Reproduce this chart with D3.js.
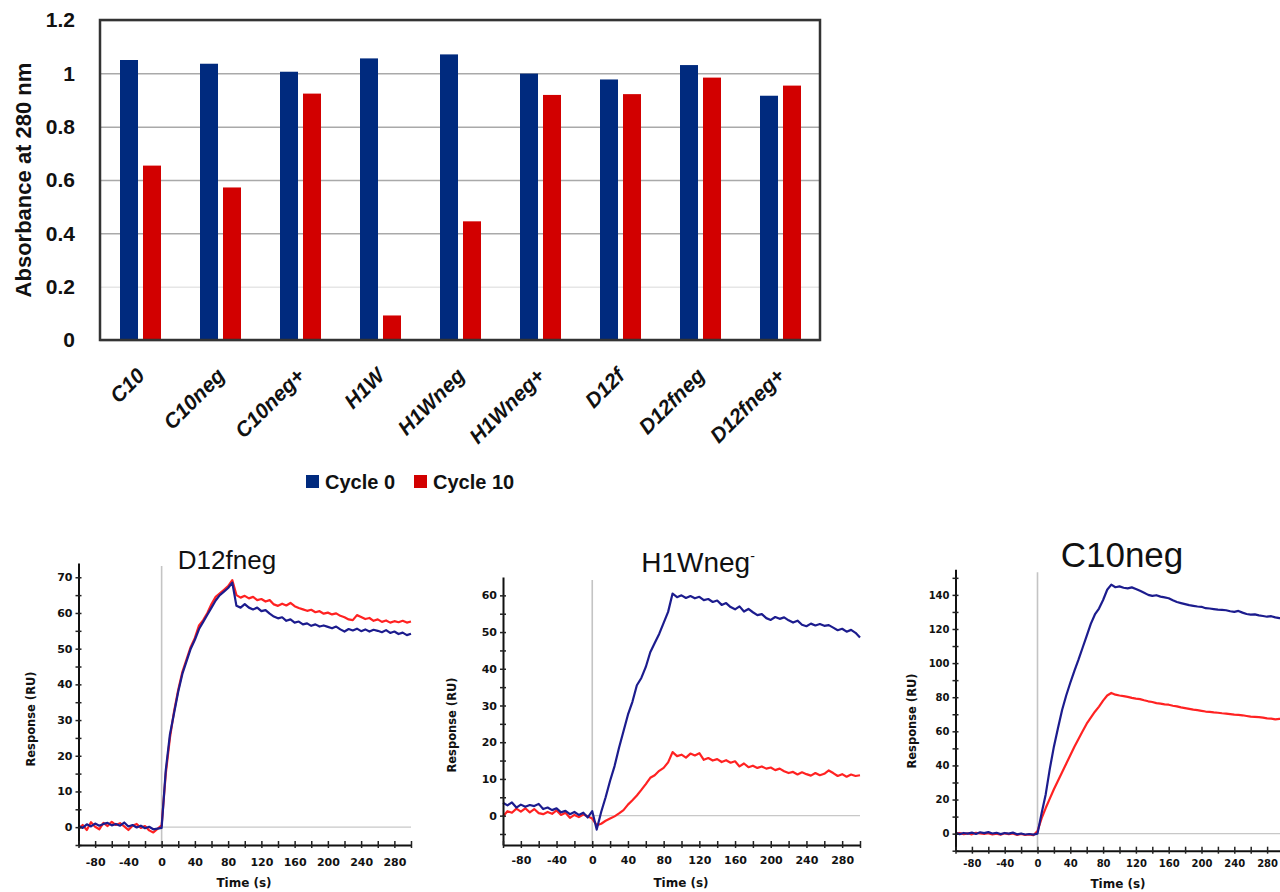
<!DOCTYPE html>
<html>
<head>
<meta charset="utf-8">
<script src="https://cdn.jsdelivr.net/npm/d3@7"></script>
<style>
  body { margin: 0; background: #fff; }
  svg { display: block; }
</style>
</head>
<body>
<svg id="chart" width="1280" height="892"></svg>
<script>
// absorbance bar chart
const categories = ["C10", "C10neg", "C10neg+", "H1W", "H1Wneg", "H1Wneg+", "D12f", "D12fneg", "D12fneg+"];
const seriesNames = ["Cycle 0", "Cycle 10"];
const cycle0 = [1.05, 1.036, 1.006, 1.056, 1.071, 0.999, 0.977, 1.031, 0.916];
const cycle10 = [0.654, 0.572, 0.924, 0.092, 0.445, 0.919, 0.922, 0.984, 0.954];
const absTicks = [0, 0.2, 0.4, 0.6, 0.8, 1, 1.2];

// sensorgrams (Response in RU vs time in s)
const times = [-100, -95, -90, -85, -80, -75, -70, -65, -60, -55, -50, -45, -40, -35, -30, -25, -20, -15, -10, -5, 0,
  5, 10, 15, 20, 25, 30, 35, 40, 45, 50, 55, 60, 65, 70, 75, 80, 85,
  90, 95, 100, 105, 110, 115, 120, 125, 130, 135, 140, 145, 150, 155, 160, 165, 170, 175, 180, 185, 190, 195,
  200, 205, 210, 215, 220, 225, 230, 235, 240, 245, 250, 255, 260, 265, 270, 275, 280, 285, 290, 295, 300];
const timeTicks = [-80, -40, 0, 40, 80, 120, 160, 200, 240, 280];

const d12Cycle0 = [0.3, -0.2, 0.8, 0.2, 1.0, 0.4, 0.9, 1.2, 0.5, 0.9, 0.4, 1.3, 0.2, 0.6, -0.1, 0.4, -0.3, 0.1, -0.6, -0.4, -0.2,
  16, 26, 32, 38, 43, 46.5, 50, 52.5, 55.5, 57.5, 59.5, 61.5, 63.5, 65, 66, 67, 68.5,
  62, 61.5, 62.5, 61.5, 61, 61.5, 60.5, 60.8, 59.8, 59, 58.5, 58.8, 57.8, 58.2, 57.3, 57.6, 56.8, 57.1, 56.4, 56.8, 56.2, 56.5,
  56.1, 55.7, 56.2, 55.4, 54.8, 55.5, 55.1, 55.6, 54.9, 55.4, 54.8, 55.3, 55.0, 54.6, 55.2, 54.4, 54.8, 54.1, 54.5, 53.8, 54.2];
const d12Cycle10 = [-0.5, 0.6, -0.8, 1.4, 0.1, -0.6, 1.2, 0.3, 1.5, 0.6, 1.1, 0.2, -0.8, 0.4, 0.9, -0.2, 0.3, -0.9, -1.5, -0.5, 0.5,
  15, 25, 32.5, 38.5, 43.5, 47, 50.5, 53, 56.5, 58, 60, 62.5, 64.5, 65.5, 66.5, 67.5, 69.2,
  65, 64.3, 64.8, 64.1, 64.5, 63.6, 63.9, 63.2, 63.6, 62.4, 62.0, 62.6, 62.1, 62.8, 61.9, 61.4, 61.0, 60.6, 60.9, 60.2, 60.5, 59.8,
  60.1, 59.6, 59.9, 59.2, 58.8, 58.2, 58.0, 59.4, 58.9, 58.3, 58.6, 57.8, 58.2, 57.5, 57.9, 57.3, 57.7, 57.4, 57.8, 57.3, 57.6];
const d12Ticks = [0, 10, 20, 30, 40, 50, 60, 70];

const h1wCycle0 = [3.5, 2.8, 3.6, 2.2, 3.0, 2.4, 2.9, 2.6, 3.2, 1.8, 2.2, 1.5, 2.0, 0.9, 1.3, 0.4, 1.0, 0.2, 0.8, -0.5, 1.2,
  -3.8, 1.0, 5.0, 9.5, 13.5, 18.5, 23, 27.5, 31, 35.5, 37.5, 40.5, 44.5, 47, 49.5, 52.5, 55.5,
  60.5, 59.5, 60.0, 59.3, 59.8, 59.2, 59.6, 58.7, 59.0, 58.2, 58.6, 57.4, 57.9, 56.8, 56.2, 57.0, 55.6, 56.3, 55.4, 54.6, 54.9, 53.8,
  53.3, 54.1, 53.6, 54.0, 53.2, 52.6, 53.1, 52.0, 51.6, 52.3, 51.8, 52.2, 51.7, 51.9, 51.2, 50.5, 50.9, 50.1, 50.6, 49.8, 48.5];
const h1wCycle10 = [-0.2, 1.2, 0.8, 1.9, 1.1, 2.0, 0.9, 1.8, 0.7, 0.4, 1.0, 0.5, 1.4, 0.2, 0.8, -0.6, 0.2, -0.4, 0.3, -0.2, -0.8,
  -2.6, -2.2, -1.4, -0.8, -0.2, 0.6, 1.5, 3.0, 4.2, 5.5, 7.0, 8.6, 10.3, 11.0, 12.2, 13.0, 14.5,
  17.3, 16.2, 16.6, 15.8, 16.9, 16.4, 17.0, 15.2, 15.7, 15.0, 15.4, 14.6, 15.1, 14.4, 14.8, 13.4, 14.2, 13.2, 13.6, 13.0, 13.4, 12.8,
  13.1, 12.4, 12.8, 12.1, 11.6, 11.9, 11.2, 11.8, 11.3, 10.9, 11.6, 11.0, 11.4, 12.3, 11.6, 10.8, 11.3, 10.6, 11.2, 10.8, 11.0];
const h1wTicks = [0, 10, 20, 30, 40, 50, 60];

const c10Cycle0 = [0.5, -0.3, 0.4, 0.0, 0.6, -0.2, 0.8, 0.3, 0.9, 0.1, 0.5, -0.3, 0.4, 0.0, 0.6, -0.4, 0.1, -0.5, -0.2, -0.6, 0.0,
  12, 23, 38, 51, 62, 72.5, 81, 88.5, 95.5, 102, 109, 116, 123, 128.5, 132, 137, 143,
  146, 144.5, 145, 144.2, 143.8, 144.4, 143.5, 142.4, 141.2, 140.0, 139.4, 139.8, 139.0, 138.5, 138.0, 136.8, 135.8, 135.2, 134.6, 134.0, 133.6, 133.2,
  133.0, 132.2, 132.0, 131.7, 131.4, 131.2, 131.0, 130.4, 130.0, 130.6, 129.6, 128.8, 128.4, 128.6, 128.0, 127.6, 127.2, 127.5, 126.8, 126.4, 126.6];
const c10Cycle10 = [0.0, 0.4, -0.3, 0.2, -0.4, 0.5, 0.1, -0.2, 0.3, -0.5, 0.0, -0.6, 0.2, -0.3, 0.1, -0.7, -0.2, -0.8, -0.4, -0.9, 1.5,
  9, 15, 20.5, 26, 31, 36, 41, 46, 51, 55.5, 60, 64.5, 68, 71.5, 74.5, 78, 81,
  82.5, 81.5, 81.0, 80.6, 80.2, 79.6, 79.2, 78.9, 78.2, 77.6, 77.2, 76.5, 76.2, 75.8, 75.6, 75.0, 74.6, 74.0, 73.6, 73.2, 72.7, 72.4,
  72.0, 71.6, 71.4, 71.1, 70.9, 70.6, 70.4, 70.1, 69.8, 69.6, 69.4, 69.0, 68.6, 68.5, 68.3, 68.0, 67.6, 67.4, 67.0, 67.3, 67.1];
const c10Ticks = [0, 20, 40, 60, 80, 100, 120, 140];

const barColors = ["#002a7e", "#d20000"];
const lineColors = ["#1c1c8e", "#ff2222"];
const fontSans = "'Liberation Sans', Arial, sans-serif";
const fontTicks = "'DejaVu Sans', Verdana, sans-serif";

const svg = d3.select("#chart");

// ---------- bar chart ----------
const box = { left: 100, right: 820, top: 20, bottom: 340 };
const x0 = d3.scaleBand().domain(categories).range([box.left, box.right]);
const x1 = d3.scaleBand().domain(seriesNames).range([20, 61]).paddingInner(0.217);
const yAbs = d3.scaleLinear().domain([0, 1.2]).range([box.bottom, box.top]);

const grid = svg.append("g")
  .attr("transform", "translate(" + box.left + ",0)")
  .call(d3.axisLeft(yAbs).tickValues(absTicks).tickSize(-(box.right - box.left)).tickPadding(25).tickFormat(d => String(d)));
grid.select(".domain").remove();
grid.selectAll(".tick line")
  .attr("stroke", d => d === 0.2 ? "#e6e6e6" : "#a9a9a9")
  .attr("stroke-width", 1.5);
grid.selectAll(".tick text")
  .attr("font-family", fontSans).attr("font-weight", "bold").attr("font-size", 21).attr("fill", "#111");

const rows = categories.map((c, i) => ({ cat: c, vals: [cycle0[i], cycle10[i]] }));
svg.append("g").selectAll("g")
  .data(rows)
  .enter()
  .append("g")
  .attr("transform", d => "translate(" + x0(d.cat) + ",0)")
  .selectAll("rect")
  .data(d => d.vals.map((v, j) => ({ name: seriesNames[j], v: v, j: j })))
  .enter()
  .append("rect")
  .attr("x", d => x1(d.name))
  .attr("y", d => yAbs(d.v))
  .attr("width", x1.bandwidth())
  .attr("height", d => box.bottom - yAbs(d.v))
  .attr("fill", d => barColors[d.j]);

svg.append("rect")
  .attr("x", box.left).attr("y", box.top)
  .attr("width", box.right - box.left).attr("height", box.bottom - box.top)
  .attr("fill", "none").attr("stroke", "#333").attr("stroke-width", 2.5);

svg.append("g").selectAll("text")
  .data(categories)
  .enter()
  .append("text")
  .attr("transform", d => "translate(" + (x0(d) + x0.bandwidth() / 2 + 6) + ",377) rotate(-45)")
  .attr("text-anchor", "end")
  .attr("font-family", fontSans).attr("font-weight", "bold").attr("font-style", "italic")
  .attr("font-size", 21).attr("fill", "#111")
  .text(d => d);

svg.append("text")
  .attr("transform", "translate(31,180) rotate(-90)")
  .attr("text-anchor", "middle")
  .attr("font-family", fontSans).attr("font-weight", "bold").attr("font-size", 22).attr("fill", "#111")
  .text("Absorbance at 280 nm");

const legend = svg.append("g").selectAll("g")
  .data(seriesNames)
  .enter()
  .append("g")
  .attr("transform", (d, i) => "translate(" + (306 + i * 108) + ",475)");
legend.append("rect").attr("width", 13).attr("height", 13).attr("fill", (d, i) => barColors[i]);
legend.append("text")
  .attr("x", 19).attr("y", 13.5)
  .attr("font-family", fontSans).attr("font-weight", "bold").attr("font-size", 20).attr("fill", "#111")
  .text(d => d);

// ---------- sensorgrams ----------
function drawPanel(p) {
  const x = d3.scaleLinear().domain([-100, 300]).range(p.xr);
  const y = d3.scaleLinear().domain(p.yd).range(p.yr);
  const g = svg.append("g");

  const yMinor = d3.range(Math.ceil(p.yd[0] / p.yMinor) * p.yMinor, p.yd[1], p.yMinor);
  const xMinor = d3.range(-100, 301, 20);

  g.append("line")
    .attr("x1", x(0)).attr("x2", x(0)).attr("y1", p.yr[1] + 3).attr("y2", p.yr[0])
    .attr("stroke", "#c4c4c4").attr("stroke-width", 1.6);
  g.append("line")
    .attr("x1", x(0)).attr("x2", x(300)).attr("y1", y(0)).attr("y2", y(0))
    .attr("stroke", "#c8c8c8").attr("stroke-width", 1.2);

  const line = d3.line().x((d, i) => x(times[i])).y(d => y(d));
  [p.red, p.blue].forEach((s, k) => {
    g.append("path")
      .datum(s)
      .attr("fill", "none")
      .attr("stroke", k === 0 ? lineColors[1] : lineColors[0])
      .attr("stroke-width", 2.2)
      .attr("stroke-linejoin", "round")
      .attr("d", line);
  });

  const yl = g.append("g")
    .attr("transform", "translate(" + p.xr[0] + ",0)")
    .call(d3.axisLeft(y).tickValues(yMinor).tickSizeInner(3).tickSizeOuter(0).tickPadding(3)
      .tickFormat(d => p.yTicks.includes(d) ? d : ""));
  g.append("g")
    .attr("transform", "translate(" + p.xr[0] + ",0)")
    .call(d3.axisRight(y).tickValues(yMinor).tickSizeInner(3).tickSizeOuter(0).tickFormat(""))
    .select(".domain").remove();

  const xl = g.append("g")
    .attr("transform", "translate(0," + p.yr[0] + ")")
    .call(d3.axisBottom(x).tickValues(xMinor).tickSizeInner(3).tickSizeOuter(0).tickPadding(p.xPad)
      .tickFormat(d => timeTicks.includes(d) ? d : ""));
  g.append("g")
    .attr("transform", "translate(0," + p.yr[0] + ")")
    .call(d3.axisTop(x).tickValues(xMinor).tickSizeInner(4).tickSizeOuter(0).tickFormat(""))
    .select(".domain").remove();

  g.selectAll(".domain").attr("stroke", "#111").attr("stroke-width", 2);
  g.selectAll(".tick line").attr("stroke", "#222").attr("stroke-width", 1.5);
  [yl, xl].forEach(a => a.selectAll(".tick text")
    .attr("font-family", fontTicks).attr("font-weight", "bold").attr("font-size", p.tickSize).attr("fill", "#111"));

  g.append("text")
    .attr("transform", "translate(" + p.ylab[0] + "," + p.ylab[1] + ") rotate(-90)")
    .attr("text-anchor", "middle")
    .attr("font-family", fontTicks).attr("font-weight", "bold").attr("font-size", 11.5).attr("fill", "#111")
    .text("Response (RU)");
  g.append("text")
    .attr("x", p.xlab[0]).attr("y", p.xlab[1])
    .attr("text-anchor", "middle")
    .attr("font-family", fontTicks).attr("font-weight", "bold").attr("font-size", 12).attr("fill", "#111")
    .text("Time (s)");

  const t = g.append("text")
    .attr("x", p.title[0]).attr("y", p.title[1])
    .attr("text-anchor", "middle")
    .attr("font-family", fontSans).attr("font-size", p.titleSize).attr("fill", "#111")
    .text(p.name);
  if (p.sup) {
    t.append("tspan").attr("font-size", p.titleSize * 0.5).attr("dy", -p.titleSize * 0.4).text(p.sup);
  }
}

drawPanel({
  name: "D12fneg", title: [227, 569], titleSize: 26,
  xr: [78.5, 411], yd: [-5, 74], yr: [845, 563], yMinor: 5, yTicks: d12Ticks,
  blue: d12Cycle0, red: d12Cycle10, tickSize: 11, xPad: 10,
  ylab: [35, 719], xlab: [244, 887]
});
drawPanel({
  name: "H1Wneg", sup: "-", title: [698, 572], titleSize: 28,
  xr: [503, 860], yd: [-8, 65], yr: [845, 577], yMinor: 5, yTicks: h1wTicks,
  blue: h1wCycle0, red: h1wCycle10, tickSize: 11, xPad: 8,
  ylab: [456, 725], xlab: [681, 887]
});
drawPanel({
  name: "C10neg", title: [1122, 567], titleSize: 35,
  xr: [955.5, 1283.5], yd: [-10, 155], yr: [850.7, 569.3], yMinor: 10, yTicks: c10Ticks,
  blue: c10Cycle0, red: c10Cycle10, tickSize: 10, xPad: 6,
  ylab: [916, 721], xlab: [1118, 888]
});
</script>
</body>
</html>
